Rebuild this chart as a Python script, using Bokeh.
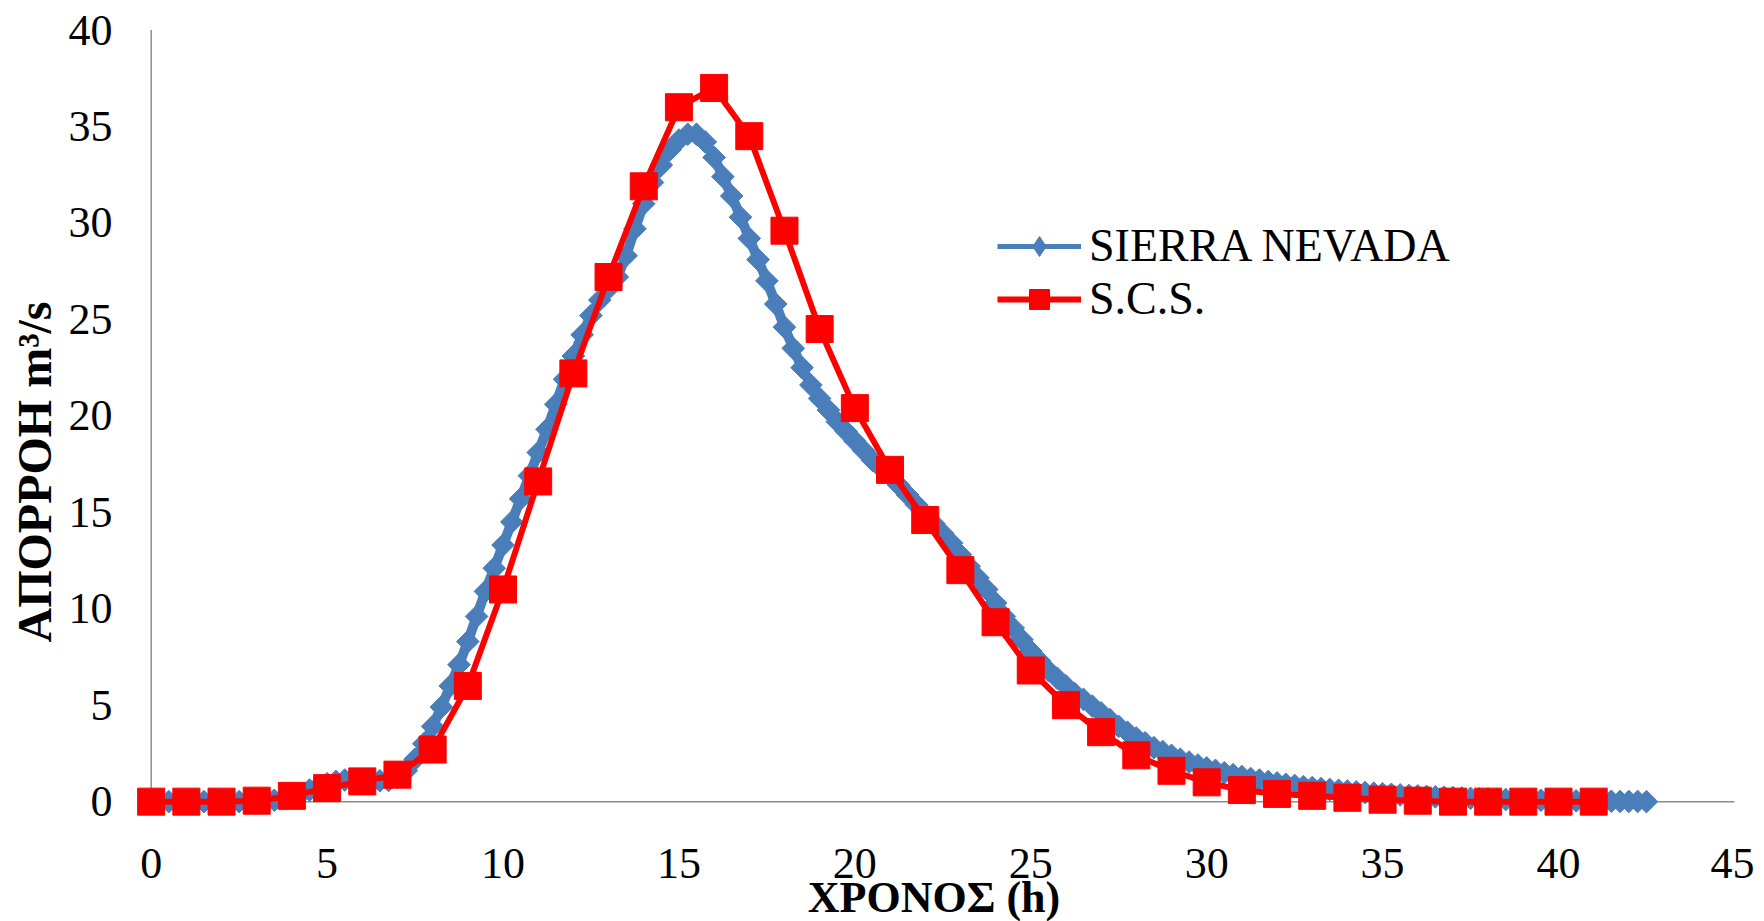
import math
from bokeh.plotting import figure
from bokeh.models import Range1d, FixedTicker, Legend, LegendItem, Title
from bokeh.embed import file_html
from bokeh.resources import INLINE

# ---------------- data ----------------
# SCS unit hydrograph (hourly)
t_scs = [0, 1, 2, 3, 4, 5, 6, 7, 8, 9, 10, 11, 12, 13, 14, 15, 16, 17, 18, 19, 20,
         21, 22, 23, 24, 25, 26, 27, 28, 29, 30, 31, 32, 33, 34, 35, 36, 37, 38, 39, 40, 41]
q_scs = [0, 0, 0, 0.05, 0.3, 0.7, 1.05, 1.4, 2.7, 6.0, 11.0, 16.6, 22.2, 27.2, 31.9, 36.0,
         37.0, 34.5, 29.6, 24.5, 20.4, 17.2, 14.6, 12.0, 9.3, 6.8, 5.0, 3.6, 2.4, 1.6, 1.0,
         0.6, 0.4, 0.3, 0.2, 0.1, 0.05, 0, 0, 0, 0, 0]

# SIERRA NEVADA hydrograph (every 0.25 h)
t_sn = [0, 0.25, 0.5, 0.75, 1, 1.25, 1.5, 1.75, 2, 2.25, 2.5, 2.75,
        3, 3.25, 3.5, 3.75, 4, 4.25, 4.5, 4.75, 5, 5.25, 5.5, 5.75,
        6, 6.25, 6.5, 6.75, 7, 7.25, 7.5, 7.75, 8, 8.25, 8.5, 8.75,
        9, 9.25, 9.5, 9.75, 10, 10.25, 10.5, 10.75, 11, 11.25, 11.5, 11.75,
        12, 12.25, 12.5, 12.75, 13, 13.25, 13.5, 13.75, 14, 14.25, 14.5, 14.75,
        15, 15.25, 15.5, 15.75, 16, 16.25, 16.5, 16.75, 17, 17.25, 17.5, 17.75,
        18, 18.25, 18.5, 18.75, 19, 19.25, 19.5, 19.75, 20, 20.25, 20.5, 20.75,
        21, 21.25, 21.5, 21.75, 22, 22.25, 22.5, 22.75, 23, 23.25, 23.5, 23.75,
        24, 24.25, 24.5, 24.75, 25, 25.25, 25.5, 25.75, 26, 26.25, 26.5, 26.75,
        27, 27.25, 27.5, 27.75, 28, 28.25, 28.5, 28.75, 29, 29.25, 29.5, 29.75,
        30, 30.25, 30.5, 30.75, 31, 31.25, 31.5, 31.75, 32, 32.25, 32.5, 32.75,
        33, 33.25, 33.5, 33.75, 34, 34.25, 34.5, 34.75, 35, 35.25, 35.5, 35.75,
        36, 36.25, 36.5, 36.75, 37, 37.25, 37.5, 37.75, 38, 38.25, 38.5, 38.75,
        39, 39.25, 39.5, 39.75, 40, 40.25, 40.5, 40.75, 41, 41.25, 41.5, 41.75,
        42, 42.25, 42.5]
q_sn = [0, 0, 0, 0, 0, 0, 0, 0, 0, 0, 0, 0,
        0.01, 0.03, 0.07, 0.15, 0.27, 0.42, 0.6, 0.78, 0.93, 1.05, 1.12, 1.15,
        1.14, 1.1, 1.08, 1.1, 1.25, 1.6, 2.2, 3.0, 3.9, 4.9, 6.0, 7.1,
        8.3, 9.6, 10.9, 12.1, 13.3, 14.5, 15.7, 16.9, 18.1, 19.3, 20.6, 21.9,
        23.1, 24.2, 25.2, 26.0, 26.6, 27.2, 28.3, 29.7, 31.0, 32.1, 33.0, 33.8,
        34.3, 34.6, 34.6, 34.2, 33.4, 32.4, 31.4, 30.3, 29.2, 28.1, 27.0, 25.8,
        24.6, 23.5, 22.5, 21.6, 20.9, 20.3, 19.7, 19.2, 18.7, 18.2, 17.7, 17.3,
        16.9, 16.4, 15.9, 15.4, 14.9, 14.4, 13.9, 13.4, 12.8, 12.2, 11.6, 11.0,
        10.3, 9.6, 9.0, 8.4, 7.8, 7.3, 6.8, 6.4, 6.0, 5.6, 5.3, 4.95,
        4.6, 4.25, 3.9, 3.6, 3.3, 3.05, 2.8, 2.6, 2.4, 2.2, 2.05, 1.9,
        1.75, 1.62, 1.5, 1.4, 1.3, 1.2, 1.12, 1.04, 0.97, 0.9, 0.84, 0.78,
        0.73, 0.68, 0.63, 0.59, 0.55, 0.51, 0.47, 0.44, 0.41, 0.38, 0.35, 0.32,
        0.3, 0.27, 0.25, 0.23, 0.21, 0.19, 0.17, 0.15, 0.14, 0.12, 0.11, 0.1,
        0.09, 0.08, 0.07, 0.06, 0.05, 0.05, 0.04, 0.03, 0.03, 0.02, 0.02, 0.01,
        0.01, 0.01, 0]

x_ticks = [0, 5, 10, 15, 20, 25, 30, 35, 40, 45]
y_ticks = [0, 5, 10, 15, 20, 25, 30, 35, 40]
series_names = ["SIERRA NEVADA", "S.C.S."]
x_title = "ΧΡΟΝΟΣ (h)"
y_title = "ΑΠΟΡΡΟΗ m³/s"

# ---------------- style ----------------
BLUE = "#4A7EBB"
RED = "#FF0000"
AXIS_GREY = "#8C8C8C"
FONT = "Liberation Serif"

p = figure(frame_width=1629, frame_height=814,
           x_range=Range1d(-0.9, 45.4), y_range=Range1d(-1.6, 40.6),
           output_backend="svg", toolbar_location=None,
           min_border_left=118, min_border_right=6, min_border_top=18,
           min_border_bottom=40, background_fill_color="white",
           border_fill_color="white", outline_line_color=None)
p.grid.visible = False

for ax in (p.xaxis, p.yaxis):
    ax.axis_line_color = None
    ax.major_tick_line_color = None
    ax.minor_tick_line_color = None
    ax.major_label_text_font = FONT
    ax.major_label_text_font_size = "44px"
    ax.major_label_text_color = "black"

p.xaxis.ticker = FixedTicker(ticks=x_ticks)
p.yaxis.ticker = FixedTicker(ticks=y_ticks)
p.xaxis.major_label_standoff = 10
p.yaxis.major_label_standoff = 1

p.xaxis.axis_label = x_title
p.xaxis.axis_label_text_font = FONT
p.xaxis.axis_label_text_font_style = "bold"
p.xaxis.axis_label_text_font_size = "44px"
p.xaxis.axis_label_text_color = "black"
p.xaxis.axis_label_standoff = -8

# y-axis title (left panel, anchored from the bottom like the original)
p.add_layout(Title(text=y_title, align="left", offset=190, standoff=10,
                   text_font=FONT, text_font_style="bold",
                   text_font_size="48px", text_color="black"), "left")

# axis lines through the origin
p.segment(x0=[x_ticks[0]], y0=[y_ticks[0]], x1=[x_ticks[-1]], y1=[y_ticks[0]],
          line_color=AXIS_GREY, line_width=1.5)
p.segment(x0=[x_ticks[0]], y0=[y_ticks[0]], x1=[x_ticks[0]], y1=[y_ticks[-1]],
          line_color=AXIS_GREY, line_width=1.5)

# SIERRA NEVADA
p.line(t_sn, q_sn, line_color=BLUE, line_width=10)
p.scatter(t_sn, q_sn, marker="square", angle=math.pi / 4, size=16,
          fill_color=BLUE, line_color=BLUE)

# S.C.S.
r_scs_line = p.line(t_scs, q_scs, line_color=RED, line_width=6)
r_scs_mk = p.scatter(t_scs, q_scs, marker="square", size=27,
                     fill_color=RED, line_color=RED)

# legend proxies for the blue series (thin line + diamond), not drawn in the plot
leg_sn_line = p.line([math.nan], [math.nan], line_color=BLUE, line_width=5)
leg_sn_mk = p.scatter([math.nan], [math.nan], marker="diamond", size=26,
                      fill_color=BLUE, line_color=BLUE)

legend = Legend(items=[LegendItem(label=series_names[0], renderers=[leg_sn_line, leg_sn_mk]),
                       LegendItem(label=series_names[1], renderers=[r_scs_line, r_scs_mk])],
                location=(878, 507), orientation="vertical",
                padding=0, margin=0, spacing=0, border_line_color=None,
                background_fill_alpha=0, label_text_font=FONT,
                label_text_font_size="46px", label_text_color="black",
                glyph_width=84, glyph_height=50, label_height=50,
                label_standoff=8)
p.add_layout(legend, "center")

open("out.html", "w").write(file_html(p, INLINE))
